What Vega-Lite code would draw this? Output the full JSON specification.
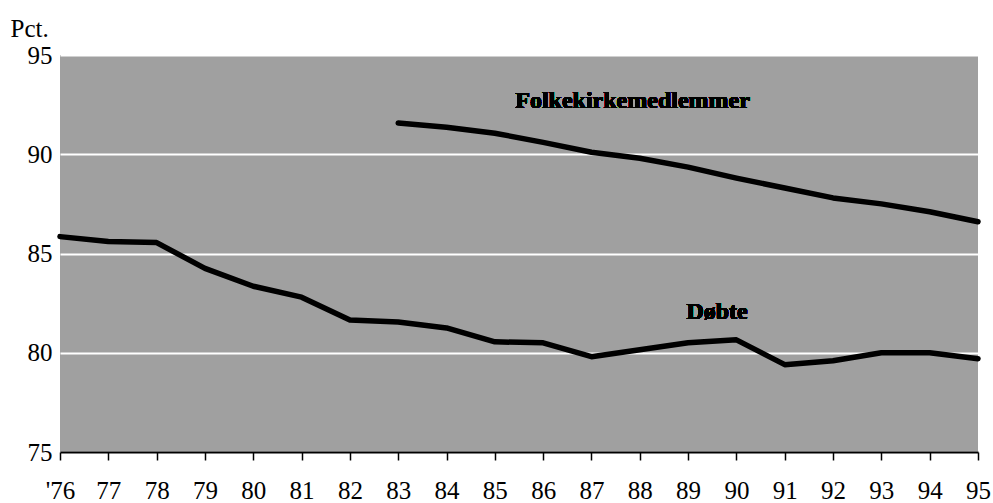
{
  "$schema": "https://vega.github.io/schema/vega-lite/v6.json",
  "width": 918,
  "height": 397,
  "autosize": "none",
  "padding": {"left": 60, "top": 55, "right": 15, "bottom": 51},
  "background": "white",
  "config": {"view": {"fill": "#a0a0a0", "stroke": null}, "font": "Liberation Serif"},
  "data": {"values": [
    {"year": 1976, "series": "Døbte", "value": 85.85},
    {"year": 1977, "series": "Døbte", "value": 85.6},
    {"year": 1978, "series": "Døbte", "value": 85.55},
    {"year": 1979, "series": "Døbte", "value": 84.25},
    {"year": 1980, "series": "Døbte", "value": 83.35},
    {"year": 1981, "series": "Døbte", "value": 82.8},
    {"year": 1982, "series": "Døbte", "value": 81.65},
    {"year": 1983, "series": "Døbte", "value": 81.55},
    {"year": 1984, "series": "Døbte", "value": 81.25},
    {"year": 1985, "series": "Døbte", "value": 80.55},
    {"year": 1986, "series": "Døbte", "value": 80.5},
    {"year": 1987, "series": "Døbte", "value": 79.8},
    {"year": 1988, "series": "Døbte", "value": 80.15},
    {"year": 1989, "series": "Døbte", "value": 80.5},
    {"year": 1990, "series": "Døbte", "value": 80.65},
    {"year": 1991, "series": "Døbte", "value": 79.4},
    {"year": 1992, "series": "Døbte", "value": 79.6},
    {"year": 1993, "series": "Døbte", "value": 80.0},
    {"year": 1994, "series": "Døbte", "value": 80.0},
    {"year": 1995, "series": "Døbte", "value": 79.7},
    {"year": 1983, "series": "Folkekirkemedlemmer", "value": 91.57},
    {"year": 1984, "series": "Folkekirkemedlemmer", "value": 91.36},
    {"year": 1985, "series": "Folkekirkemedlemmer", "value": 91.06},
    {"year": 1986, "series": "Folkekirkemedlemmer", "value": 90.6},
    {"year": 1987, "series": "Folkekirkemedlemmer", "value": 90.1},
    {"year": 1988, "series": "Folkekirkemedlemmer", "value": 89.8},
    {"year": 1989, "series": "Folkekirkemedlemmer", "value": 89.35},
    {"year": 1990, "series": "Folkekirkemedlemmer", "value": 88.8},
    {"year": 1991, "series": "Folkekirkemedlemmer", "value": 88.3},
    {"year": 1992, "series": "Folkekirkemedlemmer", "value": 87.8},
    {"year": 1993, "series": "Folkekirkemedlemmer", "value": 87.5},
    {"year": 1994, "series": "Folkekirkemedlemmer", "value": 87.1},
    {"year": 1995, "series": "Folkekirkemedlemmer", "value": 86.6}
  ]},
  "layer": [
    {
      "mark": {"type": "line", "color": "black", "strokeWidth": 5.5, "strokeJoin": "round", "strokeCap": "round"},
      "encoding": {
        "x": {
          "field": "year", "type": "quantitative",
          "scale": {"domain": [1976, 1995], "nice": false, "zero": false},
          "axis": {
            "values": [1976,1977,1978,1979,1980,1981,1982,1983,1984,1985,1986,1987,1988,1989,1990,1991,1992,1993,1994,1995],
            "title": null, "grid": false,
            "domainColor": "black", "domainWidth": 2,
            "tickColor": "black", "tickWidth": 1.5, "tickSize": 8,
            "labelFont": "Liberation Serif", "labelFontSize": 25, "labelColor": "black",
            "labelPadding": 18, "labelFlush": false, "labelOverlap": false,
            "labelExpr": "datum.value == 1976 ? \"'76\" : substring(toString(datum.value), 2)"
          }
        },
        "y": {
          "field": "value", "type": "quantitative",
          "scale": {"domain": [75, 95], "nice": false, "zero": false},
          "axis": {
            "values": [75, 80, 85, 90, 95],
            "grid": true, "gridColor": "white", "gridWidth": 2, "gridOpacity": 1,
            "domain": false, "ticks": false,
            "labelPadding": 8, "labelFont": "Liberation Serif", "labelFontSize": 25, "labelColor": "black",
            "title": "Pct.", "titleAngle": 0, "titleAlign": "left", "titleBaseline": "middle",
            "titleX": -50, "titleY": -27, "titleFont": "Liberation Serif", "titleFontSize": 25,
            "titleFontWeight": "normal", "titleColor": "black"
          }
        },
        "detail": {"field": "series", "type": "nominal"}
      }
    },
    {
      "mark": {"type": "text", "font": "Liberation Serif", "fontWeight": "bold", "fontSize": 24, "color": "black"},
      "encoding": {
        "x": {"datum": 1987.85, "type": "quantitative"},
        "y": {"datum": 92.68, "type": "quantitative"},
        "text": {"value": "Folkekirkemedlemmer"}
      }
    },
    {
      "mark": {"type": "text", "font": "Liberation Serif", "fontWeight": "bold", "fontSize": 24, "color": "black"},
      "encoding": {
        "x": {"datum": 1989.6, "type": "quantitative"},
        "y": {"datum": 82.05, "type": "quantitative"},
        "text": {"value": "Døbte"}
      }
    }
  ]
}
